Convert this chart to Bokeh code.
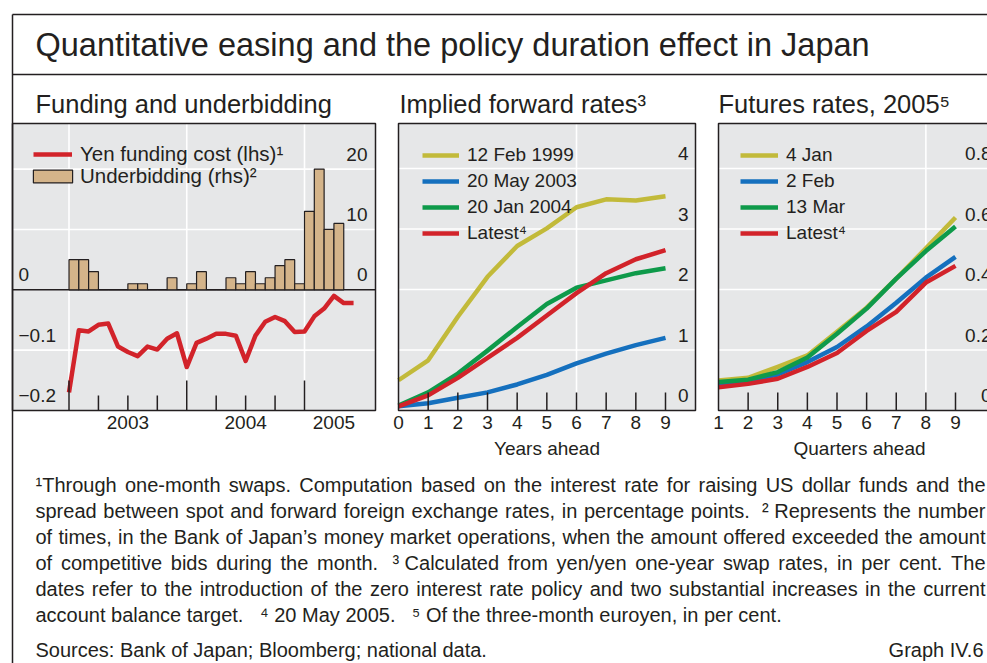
import pandas as pd
from bokeh.plotting import figure
from bokeh.models import Range1d, Legend, LegendItem
from bokeh.embed import file_html
from bokeh.resources import INLINE
from bokeh.core.properties import value

# ---------------- data ----------------
months = [str(m) for m in pd.period_range("2003-01", "2005-06", freq="M")]
funding_cost = [-0.170, -0.067, -0.069, -0.058, -0.056, -0.094, -0.103, -0.110,
                -0.094, -0.099, -0.081, -0.072, -0.128, -0.088, -0.081, -0.073,
                -0.073, -0.076, -0.118, -0.076, -0.053, -0.045, -0.052, -0.070,
                -0.069, -0.044, -0.031, -0.010, -0.022, -0.022]
bid_months = months[:28]
underbidding = [5, 5, 3, 0, 0, 0, 1, 1, 0, 0, 2, 0,
                1, 3, 0, 0, 2, 1, 3, 1, 2, 4, 5, 1,
                13, 20, 10, 11]
year_labels = ["2003", "2004", "2005"]
year_label_months = ["2003-07", "2004-07", "2005-04"]
year_tick_months = ["2003-01", "2004-01", "2005-01"]
quarter_tick_months = ["2003-04", "2003-07", "2003-10", "2004-04", "2004-07", "2004-10"]
lhs_ticks = [0, -0.1, -0.2]
lhs_labels = ["0", "\u22120.1", "\u22120.2"]
rhs_ticks = [0, 10, 20]
rhs_labels = ["0", "10", "20"]

years_ahead = [0, 1, 2, 3, 4, 5, 6, 7, 8, 9]
fwd_12feb1999 = [0.50, 0.83, 1.55, 2.21, 2.72, 3.01, 3.36, 3.49, 3.47, 3.54]
fwd_20may2003 = [0.07, 0.12, 0.21, 0.30, 0.43, 0.59, 0.78, 0.94, 1.08, 1.20]
fwd_20jan2004 = [0.08, 0.30, 0.61, 0.99, 1.38, 1.76, 2.03, 2.15, 2.27, 2.35]
fwd_latest = [0.07, 0.25, 0.54, 0.87, 1.20, 1.57, 1.94, 2.27, 2.50, 2.65]
fwd_yticks = [0, 1, 2, 3, 4]

quarters_ahead = [1, 2, 3, 4, 5, 6, 7, 8, 9]
fut_4jan = [0.099, 0.108, 0.144, 0.182, 0.260, 0.340, 0.436, 0.536, 0.638]
fut_2feb = [0.088, 0.097, 0.119, 0.160, 0.210, 0.278, 0.356, 0.439, 0.508]
fut_13mar = [0.094, 0.102, 0.127, 0.175, 0.254, 0.337, 0.436, 0.527, 0.608]
fut_latest = [0.077, 0.088, 0.105, 0.144, 0.190, 0.263, 0.326, 0.423, 0.478]
fut_yticks = [0, 0.2, 0.4, 0.6, 0.8]
fut_ylabels = ["0", "0.2", "0.4", "0.6", "0.8"]

footnote_lines = [
    "\u00b9Through one-month swaps. Computation based on the interest rate for raising US dollar funds and the",
    "spread between spot and forward foreign exchange rates, in percentage points.  \u00b2\u00a0Represents the number",
    "of times, in the Bank of Japan\u2019s money market operations, when the amount offered exceeded the amount",
    "of competitive bids during the month.  \u00b3\u00a0Calculated from yen/yen one-year swap rates, in per cent. The",
    "dates refer to the introduction of the zero interest rate policy and two substantial increases in the current",
]
footnote_last = "account balance target.\u00a0\u00a0 \u2074 20 May 2005.\u00a0\u00a0 \u2075 Of the three-month euroyen, in per cent."
sources = "Sources: Bank of Japan; Bloomberg; national data."

# ---------------- style ----------------
FONT = "Liberation Sans"
INK = "#231F20"
BG = "#E6E7E8"
YEL = "#C2BA3A"
BLU = "#1570BE"
GRN = "#0E9A4A"
RED = "#D2232A"
TAN = "#D4B48A"

W, H = 987, 663

# Arial / Liberation Sans advance widths (1/1000 em), for justifying footnotes
AW = {" ": 278, ",": 278, ".": 278, "-": 333, "\u2019": 222, "/": 278, ";": 278, ":": 278,
      "(": 333, ")": 333, "\u00a0": 278, "\u00b9": 333, "\u00b2": 333, "\u00b3": 333,
      "a": 556, "b": 556, "c": 500, "d": 556, "e": 556, "f": 278, "g": 556, "h": 556, "i": 222,
      "j": 222, "k": 500, "l": 222, "m": 833, "n": 556, "o": 556, "p": 556, "q": 556, "r": 333,
      "s": 500, "t": 278, "u": 556, "v": 500, "w": 722, "x": 500, "y": 500, "z": 500,
      "B": 667, "C": 722, "J": 500, "R": 722, "S": 667, "T": 611, "U": 722}


def tw(s, size):
    return sum(AW.get(ch, 556) for ch in s) * size / 1000.0


def midx(s):
    y, m = s.split("-")
    return (int(y) - 2003) * 12 + int(m) - 1


def lin_range(v0, p0, v1, p1, size):
    s = (v1 - v0) / (p1 - p0)
    return Range1d(start=v0 - p0 * s, end=v0 + (size - p0) * s)


def xr(v0, page0, v1, page1):
    return lin_range(v0, page0, v1, page1, W)


def yr(v0, page0, v1, page1):
    return lin_range(v0, H - page0, v1, H - page1, H)


p = figure(width=W, height=H, x_range=Range1d(0, W), y_range=Range1d(H, 0),
           x_axis_type=None, y_axis_type=None, min_border=0,
           toolbar_location=None, output_backend="svg")
p.outline_line_color = None
p.background_fill_color = "white"
p.border_fill_color = "white"

p.extra_x_ranges = {
    "p1x": xr(0, 68.5, 24, 304),
    "p2x": xr(0, 398, 9, 665),
    "p3x": xr(1, 718, 9, 955),
}
p.extra_y_ranges = {
    "p1l": yr(0, 289.3, -0.2, 410),
    "p1r": yr(0, 289.3, 20, 168.6),
    "p2y": yr(0, 410, 4, 168),
    "p3y": yr(0, 410, 0.8, 168),
}

# panel boxes (page pixel layout)
boxes = [(12, 123, 375, 410), (398, 123, 695, 410), (718, 123, 1000, 410)]
b1, b2, b3 = boxes

p.quad(left=[b[0] for b in boxes], right=[b[2] for b in boxes],
       top=[b[1] for b in boxes], bottom=[b[3] for b in boxes],
       fill_color=BG, line_color=None)

GW = 1.6
# ---- gridlines ----
p.segment(x0=b1[0], x1=b1[2], y0=[-0.1], y1=[-0.1], y_range_name="p1l", color="white", line_width=GW)
p.segment(x0=b1[0], x1=b1[2], y0=[10, 20], y1=[10, 20], y_range_name="p1r", color="white", line_width=GW)
yt = [midx(m) for m in year_tick_months]
p.segment(x0=yt, x1=yt, y0=b1[1], y1=b1[3], x_range_name="p1x", color="white", line_width=GW)

p.segment(x0=b2[0], x1=b2[2], y0=fwd_yticks[1:], y1=fwd_yticks[1:], y_range_name="p2y", color="white", line_width=GW)
p.segment(x0=[6], x1=[6], y0=b2[1], y1=b2[3], x_range_name="p2x", color="white", line_width=GW)

p.segment(x0=b3[0], x1=b3[2], y0=fut_yticks[1:], y1=fut_yticks[1:], y_range_name="p3y", color="white", line_width=GW)
p.segment(x0=[8], x1=[8], y0=b3[1], y1=b3[3], x_range_name="p3x", color="white", line_width=GW)

# ---- panel 1 ----
p.segment(x0=b1[0], x1=b1[2], y0=[0], y1=[0], y_range_name="p1l", color=INK, line_width=1.5)
bl = [midx(m) for m in bid_months]
bars = p.quad(left=bl, right=[v + 1 for v in bl], bottom=0, top=underbidding,
              x_range_name="p1x", y_range_name="p1r",
              fill_color=TAN, line_color=INK, line_width=1.2)
fund = p.line(x=[midx(m) for m in months], y=funding_cost, x_range_name="p1x", y_range_name="p1l",
              color=RED, line_width=4.5, line_join="round")
qt = [midx(m) for m in quarter_tick_months]
p.segment(x0=yt, x1=yt, y0=410, y1=380, x_range_name="p1x", color=INK, line_width=1.5)
p.segment(x0=qt, x1=qt, y0=410, y1=395, x_range_name="p1x", color=INK, line_width=1.5)

# ---- panel 2 ----
r2 = []
for ys, col in [(fwd_12feb1999, YEL), (fwd_20may2003, BLU), (fwd_20jan2004, GRN), (fwd_latest, RED)]:
    r2.append(p.line(x=years_ahead, y=ys, x_range_name="p2x", y_range_name="p2y",
                     color=col, line_width=4.5, line_join="round"))
p.segment(x0=years_ahead[1:], x1=years_ahead[1:], y0=410, y1=392, x_range_name="p2x", color=INK, line_width=1.5)

# ---- panel 3 ----
r3 = []
for ys, col in [(fut_4jan, YEL), (fut_2feb, BLU), (fut_13mar, GRN), (fut_latest, RED)]:
    r3.append(p.line(x=quarters_ahead, y=ys, x_range_name="p3x", y_range_name="p3y",
                     color=col, line_width=4.5, line_join="round"))
p.segment(x0=quarters_ahead[1:], x1=quarters_ahead[1:], y0=410, y1=392, x_range_name="p3x", color=INK, line_width=1.5)

# ---- panel outlines & outer box ----
p.quad(left=[b[0] for b in boxes], right=[b[2] for b in boxes],
       top=[b[1] for b in boxes], bottom=[b[3] for b in boxes],
       fill_color=None, line_color=INK, line_width=1.5)
p.segment(x0=[12, 12, 12], x1=[1000, 1000, 12],
          y0=[14, 74, 14], y1=[14, 74, 700], color=INK, line_width=1.5)


# ---- texts ----
def txt(x, y, s, size, align="left", baseline="middle", xname="default", yname="default", xo=0, yo=0):
    p.text(x=x, y=y, text=s, text_font=value(FONT), text_font_size=value(size),
           text_align=align, text_baseline=baseline, text_color=INK,
           x_offset=xo, y_offset=yo, x_range_name=xname, y_range_name=yname)


txt([35], [44], ["Quantitative easing and the policy duration effect in Japan"], "32.5px")
txt([35, 399, 718], [103] * 3,
    ["Funding and underbidding", "Implied forward rates\u00b3", "Futures rates, 2005\u2075"], "25.5px")

TS = "19px"
# y tick labels (inside panels, just above their gridlines)
txt([18] * 3, lhs_ticks, lhs_labels, TS, yname="p1l", yo=-15)
txt([367] * 3, rhs_ticks, rhs_labels, TS, align="right", yname="p1r", yo=-15)
txt([688] * 5, fwd_yticks, [str(v) for v in fwd_yticks], TS, align="right", yname="p2y", yo=-15)
txt([985] * 5, fut_yticks, fut_ylabels, TS, align="right", yname="p3y", xo=6, yo=-15)

# x tick labels
txt([midx(m) for m in year_label_months], [422] * 3, year_labels, TS, align="center", xname="p1x")
txt(years_ahead, [422] * 10, [str(v) for v in years_ahead], TS, align="center", xname="p2x")
txt(quarters_ahead, [422] * 9, [str(v) for v in quarters_ahead], TS, align="center", xname="p3x")
txt([(b2[0] + b2[2]) / 2, (b3[0] + b3[2]) / 2], [448] * 2, ["Years ahead", "Quarters ahead"], TS, align="center")

# footnotes (justified between x=35 and x=985)
FS = 20
FX0, FX1 = 35, 985
foot_y = [484, 510, 536, 562, 588, 614]
for line, yy in zip(footnote_lines, foot_y):
    toks = []
    pending = 0
    for w in line.split(" "):
        if w == "":
            pending += 1
            continue
        toks.append((w, (pending + 1) if toks else 0))
        pending = 0
    words_w = sum(tw(w, FS) for w, _ in toks)
    space = tw(" ", FS)
    gaps = len(toks) - 1
    extra = (FX1 - FX0 - words_w - sum(g for _, g in toks) * space) / gaps
    xs, xpos = [], FX0
    for i, (w, g) in enumerate(toks):
        if i > 0:
            xpos += g * space + extra
        xs.append(xpos)
        xpos += tw(w, FS)
    txt(xs[:-1], [yy] * (len(toks) - 1), [w for w, _ in toks[:-1]], f"{FS}px")
    txt([FX1], [yy], [toks[-1][0]], f"{FS}px", align="right")

txt([35], [foot_y[-1]], [footnote_last], f"{FS}px")
txt([35], [649], [sources], f"{FS}px")
txt([983], [649], ["Graph IV.6"], f"{FS}px", align="right")


# ---- legends ----
def add_legend(items, loc, gw, gh=22, lh=22, standoff=8, spacing=4, fs=TS):
    lg = Legend(items=items, location=loc, orientation="vertical",
                glyph_width=gw, glyph_height=gh, label_height=lh, label_standoff=standoff,
                spacing=spacing, padding=0, margin=0, border_line_color=None,
                background_fill_alpha=0, label_text_font=FONT, label_text_font_size=fs,
                label_text_color=INK)
    p.add_layout(lg)


add_legend([LegendItem(label="Yen funding cost (lhs)\u00b9", renderers=[fund])], (33, H - 166), 39, fs="20.5px")
add_legend([LegendItem(label="Underbidding (rhs)\u00b2", renderers=[bars])], (28, H - 188), 49, gh=16, lh=16,
           standoff=3, fs="20.5px")
add_legend([LegendItem(label=l, renderers=[r]) for l, r in zip(["12 Feb 1999", "20 May 2003", "20 Jan 2004", "Latest\u2074"], r2)],
           (422, H - 244), 37)
add_legend([LegendItem(label=l, renderers=[r]) for l, r in zip(["4 Jan", "2 Feb", "13 Mar", "Latest\u2074"], r3)],
           (740, H - 244), 38)

open("out.html", "w").write(file_html(p, INLINE))
